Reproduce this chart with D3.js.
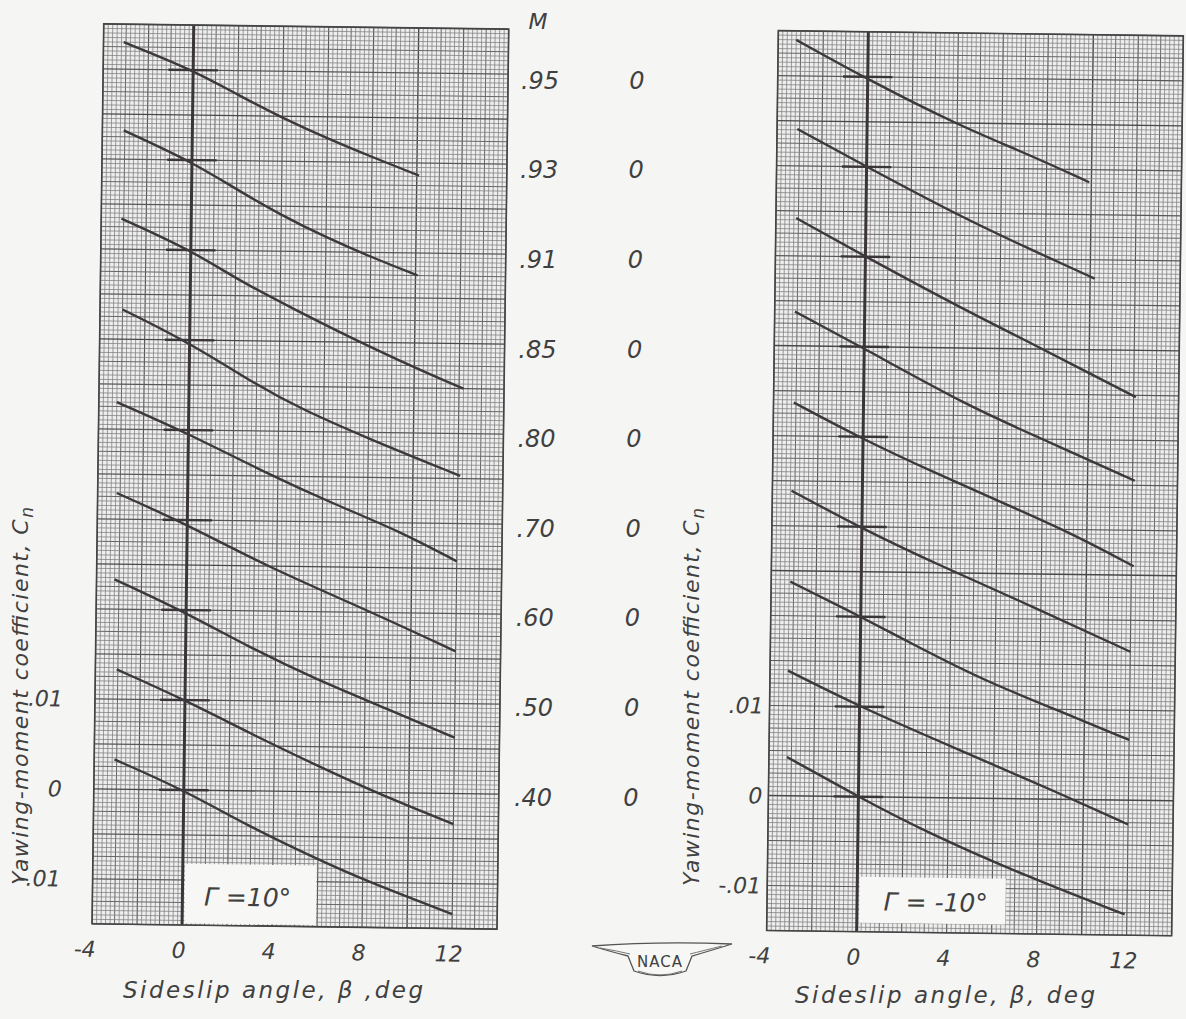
<!DOCTYPE html>
<html>
<head>
<meta charset="utf-8">
<script src="https://cdn.jsdelivr.net/npm/d3@7"></script>
<style>
    body { margin: 0; background: #f5f5f3; }
    svg { display: block; }
    text { font-family: "DejaVu Sans", sans-serif; font-style: italic; fill: #404040; }
</style>
</head>
<body>
<div id="plot"></div>
<script>
// Mach numbers, top curve first, and the Cn shift of each curve's zero
const machLabels = ['.95', '.93', '.91', '.85', '.80', '.70', '.60', '.50', '.40'];
const zeroShift = [0.08, 0.07, 0.06, 0.05, 0.04, 0.03, 0.02, 0.01, 0];
const zeroLabels = ['0', '0', '0', '0', '0', '0', '0', '0', '0'];

const xTicks = [-4, 0, 4, 8, 12];
const yTicks = [0.01, 0, -0.01];
const yTickLabels = ['.01', '0', '-.01'];

// [beta (deg), Cn], Gamma = 10 deg
const cnPlus10 = [
    [[-3.1, .0030], [0, 0], [2, -.0027], [4, -.0052], [6, -.0074], [8, -.0094], [10.1, -.0114]],
    [[-3.05, .0032], [0, -.0002], [2, -.0032], [4, -.0060], [6, -.0084], [8, -.0105], [10.1, -.0125]],
    [[-3.1, .0034], [0, 0], [2, -.0031], [4.6, -.0064], [7.9, -.0104], [10.9, -.0137], [12.2, -.0150]],
    [[-3.0, .0033], [0, -.0003], [3, -.0049], [5, -.0075], [7.9, -.0106], [12.1, -.0147]],
    [[-3.2, .0030], [0, -.0004], [3.5, -.0047], [6.5, -.0080], [9.5, -.0110], [12.0, -.0142]],
    [[-3.15, .0029], [0, -.0005], [3.6, -.0051], [8, -.0097], [12, -.0142]],
    [[-3.2, .0033], [0, -.0003], [2.8, -.0040], [5.7, -.0074], [9, -.0107], [12, -.0138]],
    [[-3.05, .0033], [0, 0], [2.9, -.0036], [6, -.0072], [8.7, -.0102], [12, -.0134]],
    [[-3.1, .0033], [0, 0], [2.8, -.0038], [5.8, -.0073], [8, -.0097], [12, -.0134]]
];

// Gamma = -10 deg
const cnMinus10 = [
    [[-3.2, .0040], [0, -.0003], [4, -.0052], [7.1, -.0083], [9.9, -.0114]],
    [[-3.1, .0041], [0, 0], [4.2, -.0054], [7.2, -.0088], [10.2, -.0121]],
    [[-3.1, .0042], [0, 0], [4.7, -.0061], [7.7, -.0097], [10, -.0126], [12.1, -.0152]],
    [[-3.1, .0038], [0, -.0002], [4.7, -.0065], [7.7, -.0097], [12.1, -.0145]],
    [[-3.1, .0037], [0, -.0003], [3.3, -.0040], [6.3, -.0072], [9.3, -.0104], [12.1, -.0140]],
    [[-3.15, .0039], [0, -.0002], [3.3, -.0040], [7.8, -.0088], [12, -.0135]],
    [[-3.15, .0038], [0, 0], [2.5, -.0032], [5.5, -.0069], [9, -.0103], [12, -.0133]],
    [[-3.2, .0039], [0, 0], [4.5, -.0047], [9, -.0094], [12, -.0127]],
    [[-3.2, .0043], [0, 0], [3, -.0038], [7.5, -.0086], [11.9, -.0127]]
];

const W = 1186, H = 1019;
const tilt = 0.745;   // the scanned sheet is slightly turned

let svg = d3.select('#plot')
    .append('svg')
        .attr('width', W)
        .attr('height', H);

let panels = [
    { ox: 183.8, oy: 790, data: cnPlus10, gamma: '\u0393 =10\u00b0', box: [0.1, 5.95, -0.0148, -0.0082],
      gx: 2.9, gy: -0.0128, yTickX: -32, yTitleX: 28, yTitleY: 696, xTitle: 'Sideslip  angle, \u03b2 ,deg', xTitleX: 273, xTitleY: 998 },
    { ox: 858.4, oy: 796.7, data: cnMinus10, gamma: '\u0393 = -10\u00b0', box: [0.1, 6.6, -0.0140, -0.0089],
      gx: 3.5, gy: -0.0126, yTickX: -6, yTitleX: 699, yTitleY: 697, xTitle: 'Sideslip  angle, \u03b2, deg', xTitleX: 945, xTitleY: 1003 }
];

panels.forEach(function(p) {
    let g = svg.append('g')
        .attr('transform', 'rotate(' + tilt + ',' + p.ox + ',' + p.oy + ')');

    let x = d3.scaleLinear().domain([-4, 14]).range([p.ox - 90, p.ox + 315]);
    let y = d3.scaleLinear().domain([-0.015, 0.085]).range([p.oy + 135, p.oy - 765]);

    // graph paper
    g.append('rect')
        .attr('x', x(-4)).attr('y', y(0.085))
        .attr('width', x(14) - x(-4)).attr('height', y(-0.015) - y(0.085))
        .attr('fill', '#eeeeee');

    function lineStyle(j) {
        if (j % 50 === 0) return ['#484848', 1.4];
        if (j % 10 === 0) return ['#575757', 1.15];
        if (j % 5 === 0) return ['#676767', 1.0];
        return ['#7e7e7e', 0.75];
    }

    let vIdx = d3.range(0, 91);
    g.append('g').selectAll('line')
        .data(vIdx)
        .enter()
        .append('line')
            .attr('x1', i => x(-4 + i * 0.2))
            .attr('x2', i => x(-4 + i * 0.2))
            .attr('y1', y(0.085))
            .attr('y2', y(-0.015))
            .attr('stroke', i => lineStyle(i - 20)[0])
            .attr('stroke-width', i => lineStyle(i - 20)[1]);

    let hIdx = d3.range(0, 201);
    g.append('g').selectAll('line')
        .data(hIdx)
        .enter()
        .append('line')
            .attr('x1', x(-4))
            .attr('x2', x(14))
            .attr('y1', i => y(-0.015 + i * 0.0005))
            .attr('y2', i => y(-0.015 + i * 0.0005))
            .attr('stroke', i => lineStyle(i - 30)[0])
            .attr('stroke-width', i => lineStyle(i - 30)[1]);

    // Gamma label box
    g.append('rect')
        .attr('x', x(p.box[0]))
        .attr('y', y(p.box[3]))
        .attr('width', x(p.box[1]) - x(p.box[0]))
        .attr('height', y(p.box[2]) - y(p.box[3]))
        .attr('fill', '#f7f7f5');

    g.append('text')
        .attr('x', x(p.gx))
        .attr('y', y(p.gy))
        .attr('text-anchor', 'middle')
        .style('font-size', '25px')
        .text(p.gamma);

    // beta = 0 line
    g.append('line')
        .attr('x1', x(0)).attr('x2', x(0))
        .attr('y1', y(0.085)).attr('y2', y(-0.015))
        .attr('stroke', '#3a3538')
        .attr('stroke-width', 3);

    // zero marks for each curve
    g.append('g').selectAll('line')
        .data(zeroShift)
        .enter()
        .append('line')
            .attr('x1', x(-1.1)).attr('x2', x(1.1))
            .attr('y1', d => y(d)).attr('y2', d => y(d))
            .attr('stroke', '#3a3538')
            .attr('stroke-width', 2.4);

    let line = d3.line()
        .x(d => x(d[0]))
        .y(d => y(d[1]))
        .curve(d3.curveBasis);

    g.append('g').selectAll('path')
        .data(p.data)
        .enter()
        .append('path')
            .attr('d', (d, i) => line(d.map(v => [v[0], v[1] + zeroShift[i]])))
            .attr('fill', 'none')
            .attr('stroke', '#3d383b')
            .attr('stroke-width', 2.4);

    // frame
    g.append('rect')
        .attr('x', x(-4)).attr('y', y(0.085))
        .attr('width', x(14) - x(-4)).attr('height', y(-0.015) - y(0.085))
        .attr('fill', 'none')
        .attr('stroke', '#444')
        .attr('stroke-width', 1.6);

    // tick labels
    g.append('g').selectAll('text')
        .data(xTicks)
        .enter()
        .append('text')
            .attr('x', d => d < 0 ? x(d) + 4 : x(d) - 3)
            .attr('y', p.oy + 168)
            .attr('text-anchor', d => d < 0 ? 'end' : 'middle')
            .style('font-size', '22px')
            .text(d => d);

    g.append('g').selectAll('text')
        .data(yTicks)
        .enter()
        .append('text')
            .attr('x', x(-4) + p.yTickX)
            .attr('y', d => y(d))
            .attr('dy', '0.36em')
            .attr('text-anchor', 'end')
            .style('font-size', '22px')
            .text((d, i) => yTickLabels[i]);

    // axis titles
    svg.append('text')
        .attr('x', p.xTitleX)
        .attr('y', p.xTitleY)
        .attr('text-anchor', 'middle')
        .attr('textLength', 300)
        .attr('lengthAdjust', 'spacing')
        .style('font-size', '23px')
        .text(p.xTitle);

    let yt = svg.append('text')
        .attr('transform', 'translate(' + p.yTitleX + ',' + p.yTitleY + ') rotate(-90)')
        .attr('text-anchor', 'middle')
        .attr('textLength', 378)
        .attr('lengthAdjust', 'spacing')
        .style('font-size', '22px');
    yt.append('tspan').text('Yawing-moment  coefficient, C');
    yt.append('tspan').attr('dy', 5).style('font-size', '17px').text('n');
});

// Mach number column
let yMach = d3.scaleLinear().domain([0, 0.08]).range([797, 80]);

svg.append('text')
    .attr('x', 538).attr('y', 21)
    .attr('dy', '0.36em')
    .attr('text-anchor', 'middle')
    .style('font-size', '22px')
    .text('M');

svg.append('g').selectAll('text')
    .data(machLabels)
    .enter()
    .append('text')
        .attr('x', (d, i) => 533 + 7 * (8 - i) / 8)
        .attr('y', (d, i) => yMach(zeroShift[i]))
        .attr('dy', '0.36em')
        .attr('text-anchor', 'middle')
        .style('font-size', '24px')
        .text(d => d);

svg.append('g').selectAll('text')
    .data(zeroLabels)
    .enter()
    .append('text')
        .attr('x', (d, i) => 631 + 6 * (8 - i) / 8)
        .attr('y', (d, i) => yMach(zeroShift[i]))
        .attr('dy', '0.36em')
        .attr('text-anchor', 'middle')
        .style('font-size', '24px')
        .text(d => d);

// NACA wings
let logo = svg.append('g');
logo.append('path')
    .attr('d', 'M592,946 Q660,941 732,944 Q706,952 692,956 L686,971 Q660,980 634,971 L628,956 Q612,952 592,946 Z')
    .attr('fill', '#f7f7f5')
    .attr('stroke', '#555')
    .attr('stroke-width', 1.3);
logo.append('path')
    .attr('d', 'M600,948 Q618,951 630,954 M722,946 Q702,951 690,954 M638,971 Q660,979 682,971')
    .attr('fill', 'none')
    .attr('stroke', '#666')
    .attr('stroke-width', 0.9);
logo.append('text')
    .attr('x', 660).attr('y', 967)
    .attr('text-anchor', 'middle')
    .style('font-style', 'normal')
    .style('font-size', '15px')
    .style('letter-spacing', '1px')
    .text('NACA');
</script>
</body>
</html>
